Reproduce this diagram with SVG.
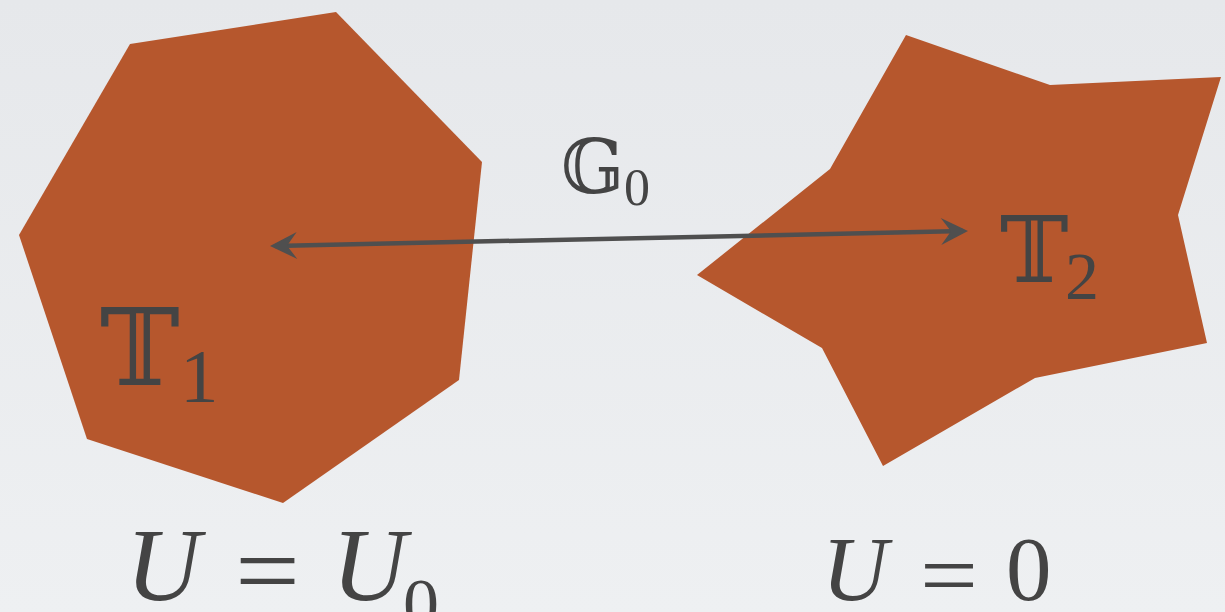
<svg xmlns="http://www.w3.org/2000/svg" width="1225" height="612" viewBox="0 0 1225 612">
  <defs>
    <linearGradient id="bg" x1="0" y1="0" x2="0" y2="1">
      <stop offset="0" stop-color="#e6e8eb"/>
      <stop offset="1" stop-color="#eef0f2"/>
    </linearGradient>
    <marker id="ah" viewBox="-28 -15 29 30" markerWidth="29" markerHeight="30" refX="-5" refY="0" markerUnits="userSpaceOnUse" orient="auto-start-reverse">
      <path d="M0,0 L-27,-13.5 L-17,0 L-27,13.5 Z" fill="#4f4f4f"/>
    </marker>
  </defs>
  <style>
    .shape { fill: #b6572d; }
    .bb { font-family: "DejaVu Serif", "DejaVu Sans", serif; fill: #444444; }
    .num { font-family: "Liberation Serif", serif; fill: #444444; }
    .it { font-family: "Liberation Serif", serif; font-style: italic; fill: #444444; }
    .conn { stroke: #4f4f4f; stroke-width: 4.5; fill: none; }
  </style>
  <rect width="1225" height="612" fill="url(#bg)"/>

  <g id="node-T1">
    <polygon class="shape" points="130,44 336,12 482,162 459,380 283,503 87,439 19,235"/>
    <text class="bb" x="100" y="385" font-size="107">𝕋</text>
    <text class="num" x="180" y="402" font-size="77">1</text>
  </g>

  <g id="node-T2">
    <polygon class="shape" points="906,35 1050,85 1221,77 1178,215 1207,343 1035,378 883,466 822,348 697,275 830,169"/>
    <text class="bb" x="1000" y="282" font-size="92">𝕋</text>
    <text class="num" x="1065" y="299" font-size="68">2</text>
  </g>

  <g id="connectors">
    <line class="conn" x1="275" y1="245.9" x2="963" y2="231.1" marker-start="url(#ah)" marker-end="url(#ah)"/>
    <text class="bb" x="561" y="193" font-size="74">𝔾</text>
    <text class="num" x="624" y="205" font-size="52">0</text>
  </g>

  <g id="label-left">
    <text class="it" x="126" y="600" font-size="103">U</text>
    <text class="num" x="235" y="606" font-size="103" textLength="65" lengthAdjust="spacingAndGlyphs">=</text>
    <text class="it" x="332" y="600" font-size="103">U</text>
    <text class="num" x="403" y="628" font-size="72">0</text>
  </g>

  <g id="label-right">
    <text class="it" x="822" y="600" font-size="91">U</text>
    <text class="num" x="920" y="606" font-size="91" textLength="58" lengthAdjust="spacingAndGlyphs">=</text>
    <text class="num" x="1006" y="600" font-size="91">0</text>
  </g>
</svg>
